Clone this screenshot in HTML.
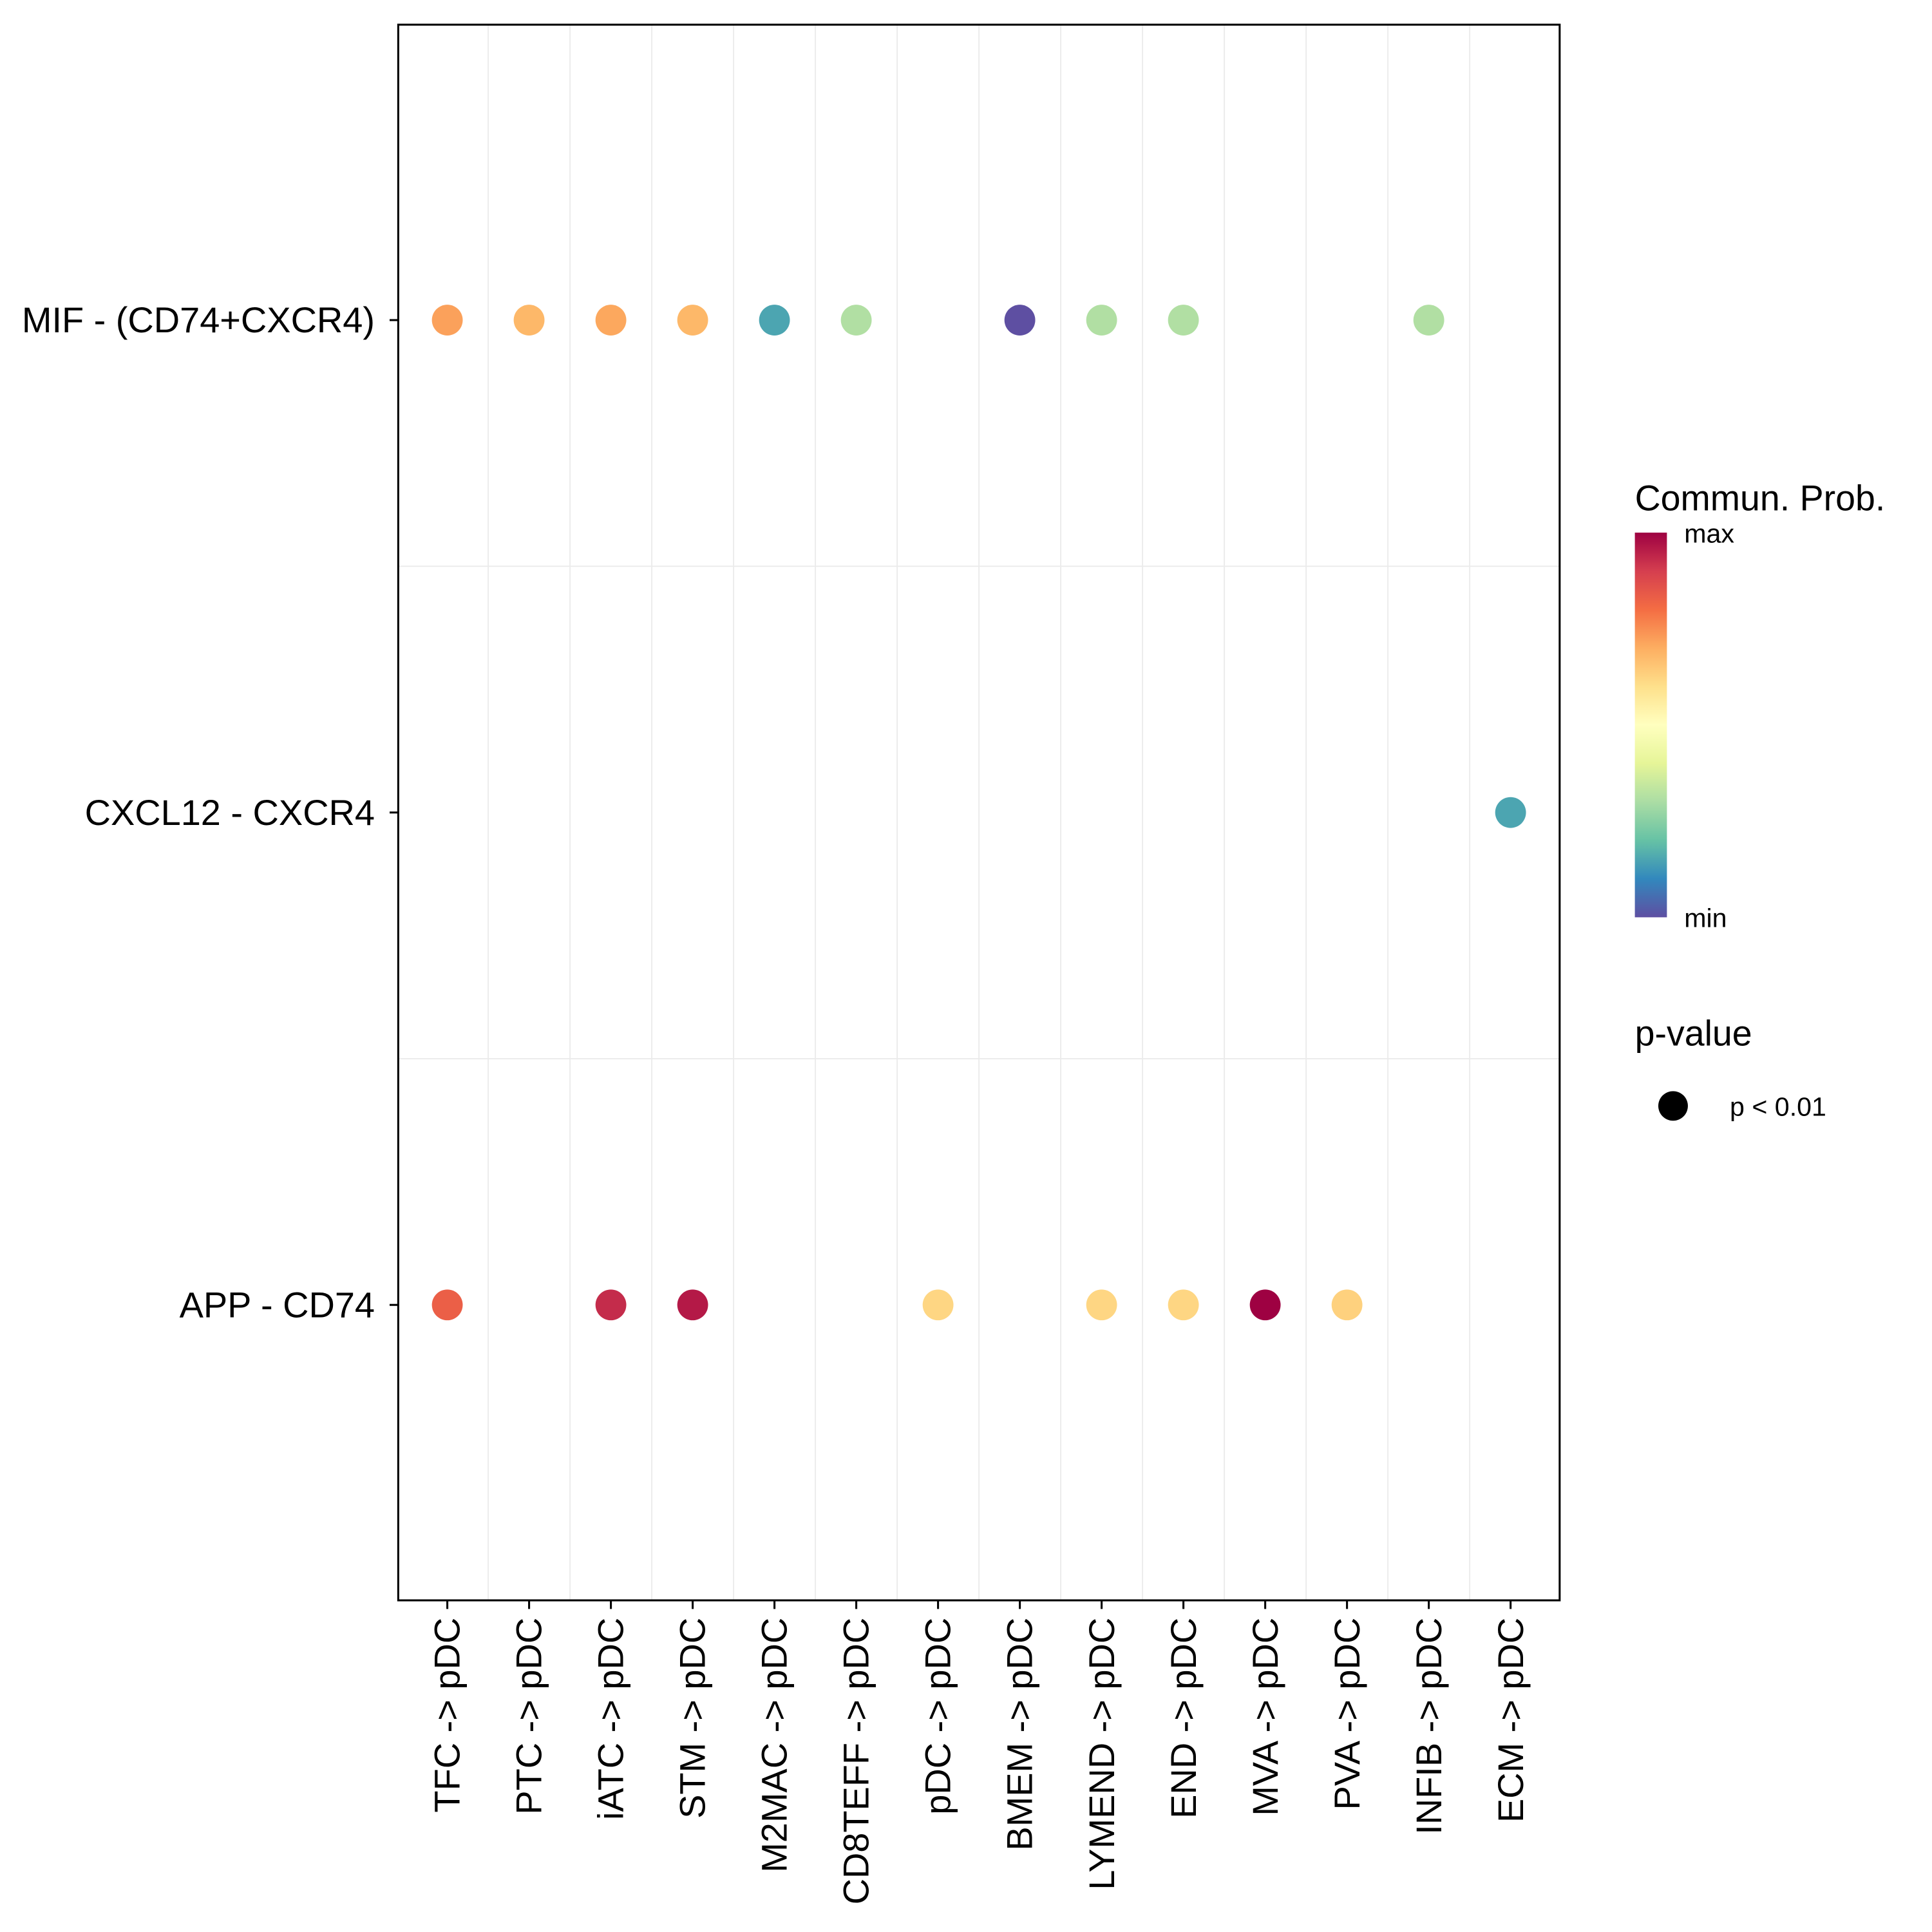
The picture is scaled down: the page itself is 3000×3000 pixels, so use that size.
<!DOCTYPE html>
<html><head><meta charset="utf-8"><style>
html,body{margin:0;padding:0;background:#fff}
svg{display:block}
text{font-family:"Liberation Sans",Arial,sans-serif}
</style></head><body>
<svg id="chart" width="3000" height="3000" viewBox="0 0 1567 1567" xmlns="http://www.w3.org/2000/svg">
<defs>
<linearGradient id="spec" x1="0" y1="1" x2="0" y2="0">
<stop offset="0" stop-color="#5E4FA2"/><stop offset="0.1" stop-color="#3288BD"/><stop offset="0.2" stop-color="#66C2A5"/><stop offset="0.3" stop-color="#ABDDA4"/><stop offset="0.4" stop-color="#E6F598"/><stop offset="0.5" stop-color="#FFFFBF"/><stop offset="0.6" stop-color="#FEE08B"/><stop offset="0.7" stop-color="#FDAE61"/><stop offset="0.8" stop-color="#F46D43"/><stop offset="0.9" stop-color="#D53E4F"/><stop offset="1" stop-color="#9E0142"/>
</linearGradient>
</defs>
<g id="grid"></g>
<g id="dots"></g>
<rect x="323" y="20" width="942" height="1278" fill="none" stroke="#000" stroke-width="1.6"/>
<g id="axes"></g>
<g>
<text x="1326" y="414" font-size="29">Commun. Prob.</text>
<rect x="1326" y="432" width="26" height="312" fill="url(#spec)"/>
<text x="1366" y="440" font-size="21.5">max</text>
<text x="1366" y="752" font-size="21.5">min</text>
</g>
<g>
<text x="1326" y="848" font-size="29">p-value</text>
<circle cx="1357" cy="897" r="12" fill="#000"/>
<text x="1403" y="905" font-size="21.5">p &lt; 0.01</text>
</g>
</svg>
<script>
const sources = ["TFC","PTC","iATC","STM","M2MAC","CD8TEFF","pDC","BMEM","LYMEND","END","MVA","PVA","INFIB","ECM"];
const pairs = ["MIF - (CD74+CXCR4)","CXCL12 - CXCR4","APP - CD74"];
const mifValues = [0.72,0.68,0.71,0.68,0.15,0.31,null,0.0,0.31,0.31,null,null,0.31,null];
const cxcl12Values = [null,null,null,null,null,null,null,null,null,null,null,null,null,0.15];
const appValues = [0.83,null,0.93,0.96,null,null,0.62,null,0.62,0.62,1.0,0.63,null,null];
const series = [mifValues,cxcl12Values,appValues];

const ns="http://www.w3.org/2000/svg";
const X0=323,X1=1265,Y0=20,Y1=1298;
const dx=(X1-X0)/(sources.length-1+1.2);
const dy=(Y1-Y0)/(pairs.length-1+1.2);
const xs=i=>X0+dx*(0.6+i);
const ys=j=>Y0+dy*(0.6+j);
const stops=["#5E4FA2","#3288BD","#66C2A5","#ABDDA4","#E6F598","#FFFFBF","#FEE08B","#FDAE61","#F46D43","#D53E4F","#9E0142"];
function color(v){const t=v*10,i=Math.min(9,Math.floor(t)),f=t-i;
 const a=stops[i],b=stops[i+1];const p=k=>parseInt(a.substr(k,2),16),q=k=>parseInt(b.substr(k,2),16);
 return `rgb(${[1,3,5].map(k=>Math.round(p(k)+(q(k)-p(k))*f)).join(",")})`;}
function mk(tag,attrs,parent){const e=document.createElementNS(ns,tag);for(const k in attrs)e.setAttribute(k,attrs[k]);parent.appendChild(e);return e;}
const grid=document.getElementById("grid"),dots=document.getElementById("dots"),axes=document.getElementById("axes");
for(let i=0;i<sources.length-1;i++){const x=xs(i+0.5);
 const l=mk("line",{x1:x,x2:x,y1:Y0,y2:Y1,stroke:"#ebebeb","stroke-width":1},grid);
 
 }
for(let j=0;j<pairs.length-1;j++){const y=ys(j+0.5);
 const l=mk("line",{x1:X0,x2:X1,y1:y,y2:y,stroke:"#ebebeb","stroke-width":1},grid);
 
 }
series.forEach((vals,j)=>vals.forEach((v,i)=>{if(v===null)return;
 const c=mk("circle",{cx:xs(i),cy:ys(j),r:12.5,fill:color(v)},dots);
 
 }));
sources.forEach((s,i)=>{const x=xs(i);
 const t=mk("line",{x1:x,x2:x,y1:Y1,y2:Y1+7,stroke:"#000","stroke-width":1.6},axes);
 
 
 const tx=mk("text",{transform:`translate(${x+10},${Y1+14}) rotate(-90)`,"text-anchor":"end","font-size":29.2},axes);
 tx.textContent=s+" -> pDC";
 
 });
pairs.forEach((p,j)=>{const y=ys(j);
 const t=mk("line",{x1:X0-7,x2:X0,y1:y,y2:y,stroke:"#000","stroke-width":1.6},axes);
 
 
 const tx=mk("text",{x:304,y:y+10,"text-anchor":"end","font-size":29.2},axes);
 tx.textContent=p;
 
 });
</script>
</body></html>
